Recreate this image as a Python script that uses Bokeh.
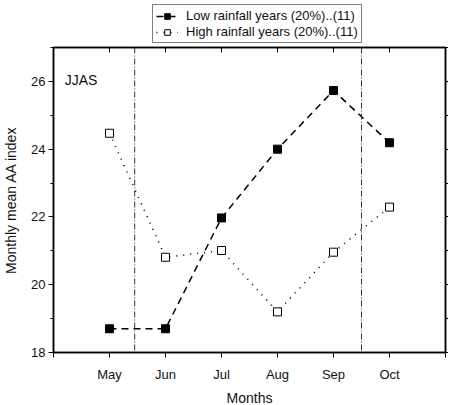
from bokeh.plotting import figure
from bokeh.layouts import column
from bokeh.models import (Range1d, LinearAxis, FixedTicker, SingleIntervalTicker,
                          Span, Label, Legend, LegendItem)
from bokeh.embed import file_html
from bokeh.resources import INLINE

months = ["May", "Jun", "Jul", "Aug", "Sep", "Oct"]
month_pos = [1, 2, 3, 4, 5, 6]
low_rain = [18.7, 18.7, 21.97, 24.0, 25.73, 24.19]
high_rain = [24.47, 20.81, 21.01, 19.2, 20.96, 22.29]
season_bounds = [1.45, 5.5]
y_ticks = [18, 19, 20, 21, 22, 23, 24, 25, 26, 27]
low_label = "Low rainfall years (20%)..(11)"
high_label = "High rainfall years (20%)..(11)"

FONT = "Liberation Sans"
LOW_STYLE = dict(line_color="black", line_width=1.5, line_dash="7 5")
HIGH_STYLE = dict(line_color="black", line_width=1.6, line_dash="1 6")

# ---------------- main plot ----------------
p = figure(frame_width=392, frame_height=305, output_backend="svg",
           toolbar_location=None,
           x_range=Range1d(0, 7), y_range=Range1d(18, 27),
           min_border_left=49, min_border_right=0, min_border_top=2,
           min_border_bottom=0)
p.xgrid.visible = False
p.ygrid.visible = False
p.outline_line_color = "black"
p.outline_line_width = 1.5
p.background_fill_color = "white"
p.border_fill_color = "white"

for xb in season_bounds:
    p.add_layout(Span(location=xb, dimension="height", line_color="#333333",
                      line_width=1, line_dash="6 2 1 2"))

p.line(month_pos, low_rain, **LOW_STYLE)
p.scatter(month_pos, low_rain, marker="square", size=8, fill_color="black",
          line_color="black")
p.line(month_pos, high_rain, **HIGH_STYLE)
p.scatter(month_pos, high_rain, marker="square", size=8, fill_color="white",
          line_color="black", line_width=1)

# bottom axis
xa = p.xaxis[0]
xa.ticker = FixedTicker(ticks=month_pos, minor_ticks=[0, 7])
xa.major_label_overrides = {m: n for m, n in zip(month_pos, months)}
xa.axis_label = "Months"
xa.major_tick_out = 5
xa.major_tick_in = 0
xa.minor_tick_out = 5
xa.minor_tick_in = 0
xa.major_label_standoff = 9
xa.axis_label_standoff = 5

# left axis
ya = p.yaxis[0]
ya.ticker = SingleIntervalTicker(interval=2, num_minor_ticks=2)
ya.axis_label = "Monthly mean AA index"
ya.major_tick_out = 5
ya.major_tick_in = 0
ya.minor_tick_out = 3
ya.minor_tick_in = 0
ya.major_label_standoff = 3
ya.axis_label_standoff = 9

for ax in (xa, ya):
    ax.axis_line_width = 1.5
    ax.axis_line_color = "black"
    ax.major_tick_line_color = "black"
    ax.minor_tick_line_color = "black"
    ax.major_tick_line_width = 1
    ax.minor_tick_line_width = 1
    ax.major_label_text_font = FONT
    ax.major_label_text_font_size = "13px"
    ax.major_label_text_color = "#111111"
    ax.axis_label_text_font = FONT
    ax.axis_label_text_font_size = "14px"
    ax.axis_label_text_font_style = "normal"
    ax.axis_label_text_color = "#111111"

# right axis: outward ticks every unit, no labels
ra = LinearAxis(ticker=FixedTicker(ticks=y_ticks, minor_ticks=[]),
                major_label_overrides={t: "" for t in y_ticks},
                major_tick_out=3, major_tick_in=0, minor_tick_out=0, minor_tick_in=0,
                major_label_standoff=0, axis_label_standoff=0,
                axis_line_width=1.5, axis_line_color="black",
                major_tick_line_color="black")
p.add_layout(ra, "right")

# top axis: inward ticks at months, no labels
ta = LinearAxis(ticker=FixedTicker(ticks=month_pos, minor_ticks=[]),
                major_label_overrides={m: "" for m in month_pos},
                major_tick_out=0, major_tick_in=5, minor_tick_out=0, minor_tick_in=0,
                major_label_standoff=0, axis_label_standoff=0,
                axis_line_width=1.5, axis_line_color="black",
                major_tick_line_color="black")
p.add_layout(ta, "above")

p.add_layout(Label(x=0.2, y=26.05, text="JJAS", text_font=FONT, text_font_size="14px",
                   text_color="#111111", text_baseline="alphabetic"))

# ---------------- legend strip above the plot ----------------
# key renderers use the same series; the strip's ranges keep them out of view
lg = figure(width=446, height=45, output_backend="svg", toolbar_location=None,
            x_range=Range1d(-20, -19), y_range=Range1d(-20, -19),
            x_axis_location=None, y_axis_location=None,
            min_border=0, outline_line_color=None)
lg.xgrid.visible = False
lg.ygrid.visible = False
kl1 = lg.line(month_pos, low_rain, **LOW_STYLE)
ks1 = lg.scatter(month_pos, low_rain, marker="square", size=8, fill_color="black",
                 line_color="black")
kl2 = lg.line(month_pos, high_rain, **HIGH_STYLE)
ks2 = lg.scatter(month_pos, high_rain, marker="square", size=8, fill_color="white",
                 line_color="black", line_width=1)

legend = Legend(items=[LegendItem(label=low_label, renderers=[kl1, ks1]),
                       LegendItem(label=high_label, renderers=[kl2, ks2])],
                location=(99, 2))
legend.label_text_font = FONT
legend.label_text_font_size = "13px"
legend.label_text_color = "#111111"
legend.glyph_width = 22
legend.glyph_height = 14
legend.label_height = 14
legend.label_standoff = 8
legend.spacing = 1
legend.padding = 3
legend.margin = 0
legend.border_line_color = "black"
legend.border_line_width = 1
legend.background_fill_alpha = 1
lg.add_layout(legend, "center")

layout = column(lg, p, spacing=0)
open("out.html", "w").write(file_html(layout, INLINE))
